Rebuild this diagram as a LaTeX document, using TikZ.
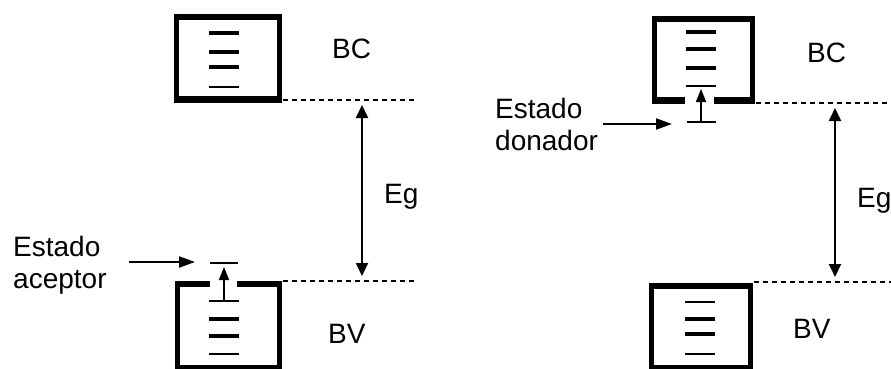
\documentclass[tikz,border=0pt]{standalone}
\usepackage{fontspec}
\setmainfont{Liberation Sans}
\usetikzlibrary{arrows.meta, positioning, calc}

\begin{document}
\begin{tikzpicture}[x=1pt, y=-1pt,
    lbl/.style={font=\fontsize{28}{32}\selectfont, inner sep=2pt, anchor=base west},
    lvl/.style={line width=3.2pt},
    thinlvl/.style={line width=1.6pt},
    edge/.style={dash pattern=on 5pt off 4pt, line width=1.4pt},
    gap/.style={{Triangle[length=13pt,width=12pt]}-{Triangle[length=13pt,width=12pt]},
                line width=2pt, shorten <=5pt, shorten >=5pt},
    jump/.style={-{Triangle[length=13pt,width=10pt]}, line width=1.6pt},
    point/.style={-{Triangle[length=16pt,width=11pt]}, line width=2.2pt}]
  \useasboundingbox (0,0) rectangle (891,369);

  % band boxes with heavy frames
  \foreach \xa/\ya/\xb/\yb in {174/14/282/103, 175/281/282/372, 652/16/755/104, 649/283/753/372} {
    \fill (\xa,\ya) rectangle (\xb,\yb);
    \fill[white] (\xa+5,\ya+6) rectangle (\xb-5,\yb-7);
  }
  % openings where the impurity level sits
  \fill[white] (210,279) rectangle (237,289);
  \fill[white] (685,96) rectangle (714,106);

  % levels inside the bands
  \foreach \xa/\xb/\y in {209/239/33, 209/239/52, 209/239/67, 209/239/319, 209/239/336,
                          686/716/32, 686/716/49, 686/716/68, 685/715/319, 685/715/334}
    \draw[lvl] (\xa,\y) -- (\xb,\y);
  \foreach \xa/\xb/\y in {209/239/87, 209/239/301, 210/238/263, 209/239/354,
                          686/716/86, 687/716/122, 685/715/302, 685/715/354}
    \draw[thinlvl] (\xa,\y) -- (\xb,\y);

  % labels
  \node[lbl] (bcL) at (330,59) {BC};
  \node[lbl] (egL) at (382,203) {Eg};
  \node[lbl] (bvL) at (326,343) {BV};
  \node[lbl, align=left] (accL) at (11,288) {Estado\\aceptor};
  \node[lbl] (bcR) at (805,63) {BC};
  \node[lbl] (egR) at (855,207) {Eg};
  \node[lbl] (bvR) at (791,338) {BV};
  \node[lbl, align=left] (donL) at (493,150) {Estado\\donador};

  % band edges
  \coordinate (ecL) at (283,100);
  \coordinate (evL) at (283,281);
  \coordinate (ecR) at (756,103);
  \coordinate (evR) at (754,282);
  \draw[edge] (ecL) -- ++(132,0);
  \draw[edge] (evL) -- ++(132,0);
  \draw[edge] (ecR) -- ++(135,0);
  \draw[edge] (evR) -- ++(137,0);

  % gap arrows
  \draw[gap] (ecL -| 362,0) -- (evL -| 362,0);
  \draw[gap] (ecR -| 835,0) -- (evR -| 835,0);

  % impurity levels and transitions
  \coordinate (acc) at (224,263);
  \coordinate (vtop) at (224,301);
  \coordinate (don) at (701,122);
  \coordinate (cbot) at (701,86);
  \draw[jump, shorten >=4pt] (vtop) -- (acc);
  \draw[jump, shorten >=3pt] (don) -- (cbot);

  % pointers from the labels
  \coordinate (accTip) at (195,262);
  \coordinate (donTip) at (672,124);
  \draw[point, shorten <=20pt] (accL.east |- accTip) -- (accTip);
  \draw[point, shorten <=3pt] (donL.east |- donTip) -- (donTip);
\end{tikzpicture}
\end{document}
